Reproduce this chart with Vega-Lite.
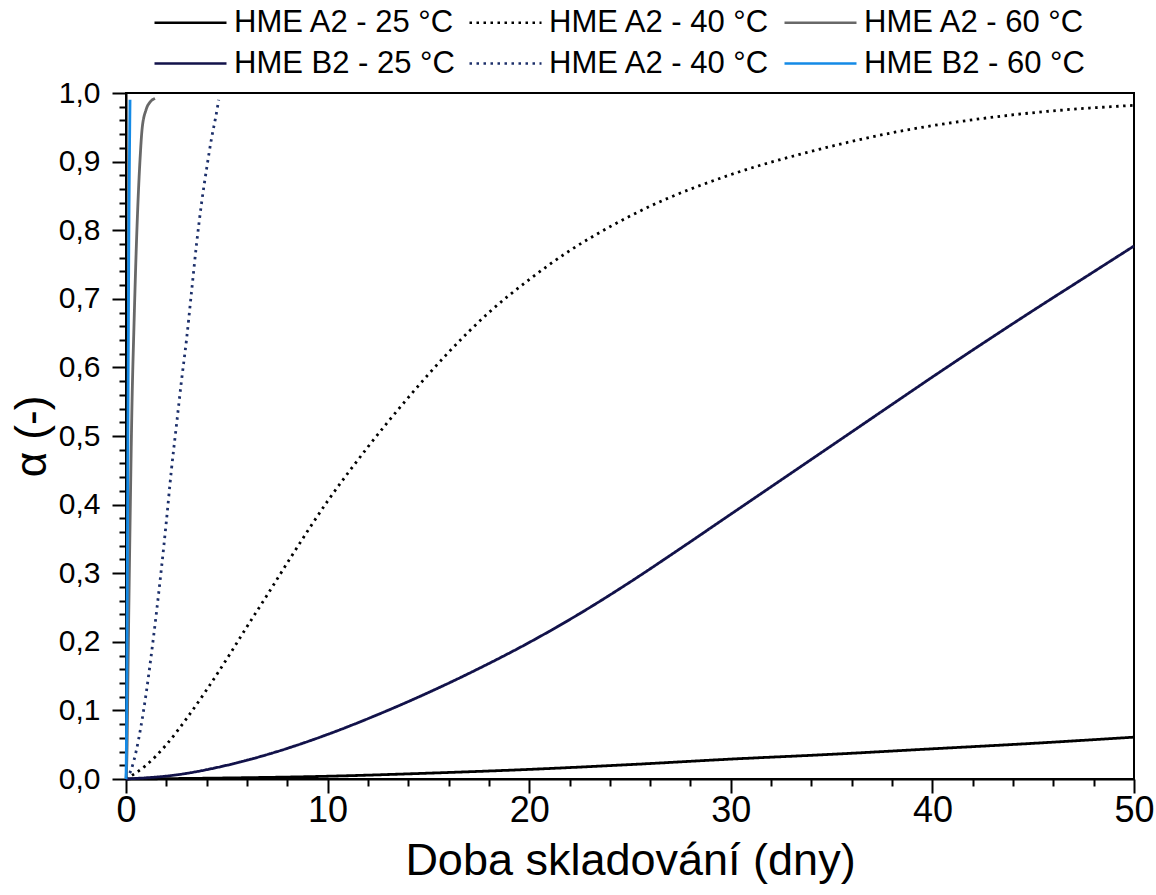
{
  "$schema": "https://vega.github.io/schema/vega-lite/v6.json",
  "autosize": {"type": "none"},
  "padding": {"left": 126, "top": 93, "right": 22, "bottom": 116},
  "width": 1008,
  "height": 686,
  "background": "white",
  "config": {
    "font": "Liberation Sans",
    "view": {"stroke": "black", "strokeWidth": 2},
    "axis": {"tickSize": 14}
  },
  "data": {
    "values": [
      {"s": "A2-25", "t": 0, "a": 0},
      {"s": "A2-25", "t": 5, "a": 0.0015},
      {"s": "A2-25", "t": 10, "a": 0.004},
      {"s": "A2-25", "t": 15, "a": 0.0085},
      {"s": "A2-25", "t": 20, "a": 0.014},
      {"s": "A2-25", "t": 25, "a": 0.021},
      {"s": "A2-25", "t": 30, "a": 0.029},
      {"s": "A2-25", "t": 35, "a": 0.036},
      {"s": "A2-25", "t": 40, "a": 0.044},
      {"s": "A2-25", "t": 45, "a": 0.052},
      {"s": "A2-25", "t": 50, "a": 0.061},

      {"s": "A2-40", "t": 0, "a": 0},
      {"s": "A2-40", "t": 1, "a": 0.02},
      {"s": "A2-40", "t": 2, "a": 0.05},
      {"s": "A2-40", "t": 3, "a": 0.088},
      {"s": "A2-40", "t": 4, "a": 0.13},
      {"s": "A2-40", "t": 5, "a": 0.175},
      {"s": "A2-40", "t": 6, "a": 0.222},
      {"s": "A2-40", "t": 7, "a": 0.268},
      {"s": "A2-40", "t": 8, "a": 0.315},
      {"s": "A2-40", "t": 10, "a": 0.405},
      {"s": "A2-40", "t": 12, "a": 0.484},
      {"s": "A2-40", "t": 14, "a": 0.556},
      {"s": "A2-40", "t": 16, "a": 0.622},
      {"s": "A2-40", "t": 18, "a": 0.68},
      {"s": "A2-40", "t": 20, "a": 0.728},
      {"s": "A2-40", "t": 22, "a": 0.77},
      {"s": "A2-40", "t": 24, "a": 0.805},
      {"s": "A2-40", "t": 26, "a": 0.835},
      {"s": "A2-40", "t": 30, "a": 0.881},
      {"s": "A2-40", "t": 34, "a": 0.915},
      {"s": "A2-40", "t": 38, "a": 0.942},
      {"s": "A2-40", "t": 42, "a": 0.961},
      {"s": "A2-40", "t": 46, "a": 0.974},
      {"s": "A2-40", "t": 50, "a": 0.982},

      {"s": "A2-60", "t": 0, "a": 0},
      {"s": "A2-60", "t": 0.05, "a": 0.04},
      {"s": "A2-60", "t": 0.1, "a": 0.16},
      {"s": "A2-60", "t": 0.2, "a": 0.37},
      {"s": "A2-60", "t": 0.3, "a": 0.55},
      {"s": "A2-60", "t": 0.4, "a": 0.665},
      {"s": "A2-60", "t": 0.5, "a": 0.765},
      {"s": "A2-60", "t": 0.6, "a": 0.845},
      {"s": "A2-60", "t": 0.7, "a": 0.905},
      {"s": "A2-60", "t": 0.8, "a": 0.948},
      {"s": "A2-60", "t": 1.0, "a": 0.976},
      {"s": "A2-60", "t": 1.2, "a": 0.987},
      {"s": "A2-60", "t": 1.44, "a": 0.992},

      {"s": "B2-25", "t": 0, "a": 0},
      {"s": "B2-25", "t": 2.5, "a": 0.006},
      {"s": "B2-25", "t": 5, "a": 0.02},
      {"s": "B2-25", "t": 7.5, "a": 0.04},
      {"s": "B2-25", "t": 10, "a": 0.065},
      {"s": "B2-25", "t": 12.5, "a": 0.094},
      {"s": "B2-25", "t": 15, "a": 0.126},
      {"s": "B2-25", "t": 17.5, "a": 0.161},
      {"s": "B2-25", "t": 20, "a": 0.199},
      {"s": "B2-25", "t": 22.5, "a": 0.241},
      {"s": "B2-25", "t": 25, "a": 0.287},
      {"s": "B2-25", "t": 27.5, "a": 0.336},
      {"s": "B2-25", "t": 30, "a": 0.386},
      {"s": "B2-25", "t": 32.5, "a": 0.436},
      {"s": "B2-25", "t": 35, "a": 0.486},
      {"s": "B2-25", "t": 37.5, "a": 0.536},
      {"s": "B2-25", "t": 40, "a": 0.586},
      {"s": "B2-25", "t": 42.5, "a": 0.635},
      {"s": "B2-25", "t": 45, "a": 0.683},
      {"s": "B2-25", "t": 47.5, "a": 0.73},
      {"s": "B2-25", "t": 50, "a": 0.777},

      {"s": "B2-40", "t": 0, "a": 0},
      {"s": "B2-40", "t": 0.25, "a": 0.013},
      {"s": "B2-40", "t": 0.5, "a": 0.04},
      {"s": "B2-40", "t": 0.75, "a": 0.078},
      {"s": "B2-40", "t": 1.0, "a": 0.125},
      {"s": "B2-40", "t": 1.25, "a": 0.18},
      {"s": "B2-40", "t": 1.5, "a": 0.24},
      {"s": "B2-40", "t": 1.75, "a": 0.305},
      {"s": "B2-40", "t": 2.0, "a": 0.375},
      {"s": "B2-40", "t": 2.25, "a": 0.45},
      {"s": "B2-40", "t": 2.5, "a": 0.515},
      {"s": "B2-40", "t": 2.75, "a": 0.58},
      {"s": "B2-40", "t": 3.0, "a": 0.64},
      {"s": "B2-40", "t": 3.25, "a": 0.71},
      {"s": "B2-40", "t": 3.5, "a": 0.78},
      {"s": "B2-40", "t": 3.75, "a": 0.84},
      {"s": "B2-40", "t": 4.0, "a": 0.89},
      {"s": "B2-40", "t": 4.25, "a": 0.935},
      {"s": "B2-40", "t": 4.45, "a": 0.965},
      {"s": "B2-40", "t": 4.6, "a": 0.99},

      {"s": "B2-60", "t": 0, "a": 0},
      {"s": "B2-60", "t": 0.02, "a": 0.05},
      {"s": "B2-60", "t": 0.05, "a": 0.2},
      {"s": "B2-60", "t": 0.08, "a": 0.4},
      {"s": "B2-60", "t": 0.11, "a": 0.6},
      {"s": "B2-60", "t": 0.14, "a": 0.78},
      {"s": "B2-60", "t": 0.17, "a": 0.9},
      {"s": "B2-60", "t": 0.2, "a": 0.99}
    ]
  },
  "mark": {"type": "line", "strokeWidth": 2.8, "interpolate": "monotone"},
  "encoding": {
    "x": {
      "field": "t",
      "type": "quantitative",
      "scale": {"domain": [0, 50], "nice": false, "zero": false},
      "axis": {
        "title": "Doba skladování (dny)",
        "titleFontSize": 45,
        "titleFontWeight": "normal",
        "titleColor": "black",
        "titlePadding": 10,
        "values": [0, 2, 4, 6, 8, 10, 12, 14, 16, 18, 20, 22, 24, 26, 28, 30, 32, 34, 36, 38, 40, 42, 44, 46, 48, 50],
        "labelExpr": "datum.value % 10 === 0 ? datum.label : ''",
        "labelFontSize": 36,
        "labelColor": "black",
        "labelPadding": 0,
        "labelFlush": false,
        "labelOverlap": false,
        "tickSize": {"condition": {"test": "datum.value % 10 === 0", "value": 14}, "value": 7},
        "tickWidth": 2,
        "tickColor": "black",
        "domainColor": "black",
        "domainWidth": 2,
        "grid": false
      }
    },
    "y": {
      "field": "a",
      "type": "quantitative",
      "scale": {"domain": [0, 1], "nice": false},
      "axis": {
        "title": "α (-)",
        "titleFontSize": 44,
        "titleFontWeight": "normal",
        "titleColor": "black",
        "titlePadding": 4,
        "values": [0, 0.02, 0.04, 0.06, 0.08, 0.1, 0.12, 0.14, 0.16, 0.18, 0.2, 0.22, 0.24, 0.26, 0.28, 0.3, 0.32, 0.34, 0.36, 0.38, 0.4, 0.42, 0.44, 0.46, 0.48, 0.5, 0.52, 0.54, 0.56, 0.58, 0.6, 0.62, 0.64, 0.66, 0.68, 0.7, 0.72, 0.74, 0.76, 0.78, 0.8, 0.82, 0.84, 0.86, 0.88, 0.9, 0.92, 0.94, 0.96, 0.98, 1],
        "labelExpr": "round(datum.value * 100) % 10 === 0 ? replace(format(datum.value, '.1f'), '.', ',') : ''",
        "labelFontSize": 30,
        "labelColor": "black",
        "labelPadding": 12,
        "labelFlush": false,
        "labelOverlap": false,
        "tickSize": {"condition": {"test": "round(datum.value * 100) % 10 === 0", "value": 14}, "value": 7},
        "tickWidth": 2,
        "tickColor": "black",
        "domainColor": "black",
        "domainWidth": 2,
        "grid": false
      }
    },
    "color": {
      "field": "s",
      "type": "nominal",
      "scale": {
        "domain": ["A2-25", "A2-40", "A2-60", "B2-25", "B2-40", "B2-60"],
        "range": ["#000000", "#000000", "#686868", "#12124a", "#1c2f6a", "#148ae6"]
      },
      "legend": {
        "orient": "none",
        "legendX": 27,
        "legendY": -90,
        "direction": "horizontal",
        "columns": 3,
        "title": null,
        "symbolType": "M-2,0H2",
        "symbolSize": 1296,
        "symbolOffset": 18,
        "symbolStrokeWidth": 2.5,
        "labelFontSize": 31,
        "labelColor": "black",
        "labelOffset": 24,
        "labelLimit": 0,
        "columnPadding": 9,
        "rowPadding": 6,
        "labelExpr": "datum.label === 'B2-40' ? 'HME A2 - 40 °C' : 'HME ' + replace(datum.label, '-', ' - ') + ' °C'"
      }
    },
    "strokeDash": {
      "field": "s",
      "type": "nominal",
      "scale": {
        "domain": ["A2-25", "A2-40", "A2-60", "B2-25", "B2-40", "B2-60"],
        "range": [[1, 0], [2.5, 4.5], [1, 0], [1, 0], [2.5, 4.5], [1, 0]]
      },
      "legend": {
        "orient": "none",
        "legendX": 27,
        "legendY": -90,
        "direction": "horizontal",
        "columns": 3,
        "title": null,
        "symbolType": "M-2,0H2",
        "symbolSize": 1296,
        "symbolOffset": 18,
        "symbolStrokeWidth": 2.5,
        "labelFontSize": 31,
        "labelColor": "black",
        "labelOffset": 24,
        "labelLimit": 0,
        "columnPadding": 9,
        "rowPadding": 6,
        "labelExpr": "datum.label === 'B2-40' ? 'HME A2 - 40 °C' : 'HME ' + replace(datum.label, '-', ' - ') + ' °C'"
      }
    }
  }
}
